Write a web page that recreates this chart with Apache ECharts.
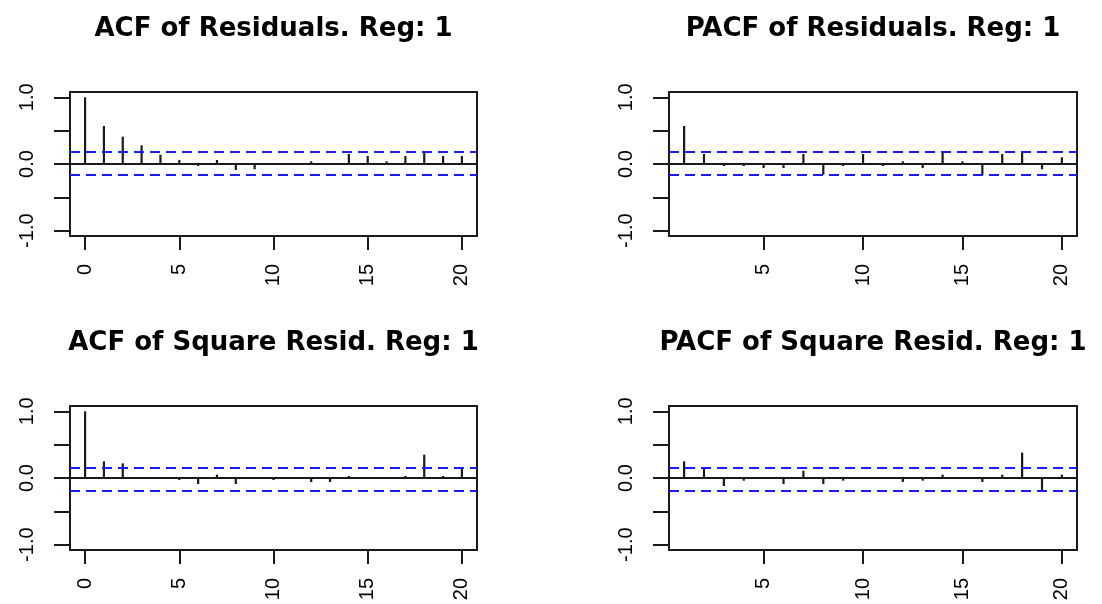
<!DOCTYPE html>
<html>
<head>
<meta charset="utf-8">
<script src="https://cdn.jsdelivr.net/npm/echarts@6/dist/echarts.min.js"></script>
<style>
  html, body { margin: 0; padding: 0; background: #fff; }
  .chart-container { position: relative; width: 1102px; height: 604px; }
</style>
</head>
<body>
<div class="chart-container">
  <div id="chart" style="height: 100%;width: 100%"></div>
</div>
<script>
// lags
const lagsAcf = [0, 1, 2, 3, 4, 5, 6, 7, 8, 9, 10, 11, 12, 13, 14, 15, 16, 17, 18, 19, 20]
const lagsPacf = [1, 2, 3, 4, 5, 6, 7, 8, 9, 10, 11, 12, 13, 14, 15, 16, 17, 18, 19, 20]

// values
const acfResid = [1.0, 0.57, 0.41, 0.28, 0.14, 0.06, -0.03, 0.06, -0.09, -0.08, 0.01, -0.01, 0.04, 0.01, 0.15, 0.12, 0.04, 0.12, 0.19, 0.12, 0.12]
const pacfResid = [0.57, 0.15, -0.03, -0.03, -0.06, -0.06, 0.15, -0.16, -0.03, 0.15, -0.03, 0.04, -0.06, 0.19, 0.04, -0.16, 0.15, 0.19, -0.08, 0.10]
const acfSquare = [1.0, 0.25, 0.22, 0.0, 0.0, -0.03, -0.09, 0.05, -0.09, 0.0, -0.03, 0.0, -0.06, -0.06, 0.03, 0.0, 0.0, 0.03, 0.35, 0.03, 0.16]
const pacfSquare = [0.25, 0.155, -0.12, -0.04, 0.0, -0.09, 0.11, -0.09, -0.04, 0.0, 0.0, -0.06, -0.04, 0.05, 0.0, -0.06, 0.05, 0.38, -0.19, 0.05]

// confidence bands [upper, lower]
const bandResid = [0.19, -0.157]
const bandSquare = [0.157, -0.19]

const yTicks = [-1, -0.5, 0, 0.5, 1]
const yLabels = [-1, 0, 1]
const xTicksAcf = [0, 5, 10, 15, 20]
const xTicksPacf = [5, 10, 15, 20]

const titles = [
  'ACF of Residuals. Reg: 1',
  'PACF of Residuals. Reg: 1',
  'ACF of Square Resid. Reg: 1',
  'PACF of Square Resid. Reg: 1'
]

const panels = [
  { title: titles[0], lags: lagsAcf, values: acfResid, band: bandResid, xTicks: xTicksAcf, grid: { left: 70, top: 92, width: 407, height: 144 } },
  { title: titles[1], lags: lagsPacf, values: pacfResid, band: bandResid, xTicks: xTicksPacf, grid: { left: 669, top: 92, width: 408, height: 144 } },
  { title: titles[2], lags: lagsAcf, values: acfSquare, band: bandSquare, xTicks: xTicksAcf, grid: { left: 70, top: 406, width: 407, height: 144 } },
  { title: titles[3], lags: lagsPacf, values: pacfSquare, band: bandSquare, xTicks: xTicksPacf, grid: { left: 669, top: 406, width: 408, height: 144 } }
]

const ink = '#1a1a1a'
const labelFont = { fontFamily: 'Liberation Sans', fontSize: 20, color: '#000' }

function spike(params, api) {
  const p0 = api.coord([api.value(0), 0])
  const p1 = api.coord([api.value(0), api.value(1)])
  return {
    type: 'line',
    shape: { x1: p0[0], y1: p0[1], x2: p1[0], y2: p1[1] },
    style: { stroke: ink, lineWidth: 2.2 }
  }
}

const chart = echarts.init(document.getElementById('chart'), null, { renderer: 'canvas' })

const grid = []
const xAxis = []
const yAxis = []
const series = []
const title = []

panels.forEach((p, i) => {
  const first = p.lags[0]
  const last = p.lags[p.lags.length - 1]
  const pad = (last - first) * 0.04

  title.push({
    text: p.title,
    left: p.grid.left + p.grid.width / 2,
    top: p.grid.top - 76,
    textAlign: 'center',
    padding: 0,
    textStyle: { fontFamily: 'DejaVu Sans', fontWeight: 'bold', fontSize: 26, color: '#000' }
  })

  grid.push(Object.assign({
    show: true,
    borderColor: ink,
    borderWidth: 2,
    backgroundColor: 'transparent'
  }, p.grid))

  xAxis.push({
    type: 'value',
    gridIndex: i,
    position: 'bottom',
    min: first - pad,
    max: last + pad,
    axisLine: { show: false, onZero: false },
    splitLine: { show: false },
    axisTick: { show: true, inside: false, length: 14, customValues: p.xTicks, lineStyle: { color: ink, width: 2 } },
    axisLabel: Object.assign({ show: true, rotate: 90, margin: 28, customValues: p.xTicks }, labelFont)
  })

  yAxis.push({
    type: 'value',
    gridIndex: i,
    position: 'left',
    min: -1.08,
    max: 1.08,
    axisLine: { show: false, onZero: false },
    splitLine: { show: false },
    axisTick: { show: true, inside: false, length: 16, customValues: yTicks, lineStyle: { color: ink, width: 2 } },
    axisLabel: Object.assign({
      show: true,
      rotate: 90,
      margin: 33,
      customValues: yLabels,
      formatter: v => v.toFixed(1)
    }, labelFont)
  })

  const dashed = { color: '#1a1aff', type: [10, 6], width: 2 }
  series.push({
    type: 'custom',
    xAxisIndex: i,
    yAxisIndex: i,
    renderItem: spike,
    encode: { x: 0, y: 1 },
    data: p.lags.map((lag, k) => [lag, p.values[k]]),
    markLine: {
      silent: true,
      symbol: ['none', 'none'],
      label: { show: false },
      animation: false,
      data: [
        { yAxis: 0, lineStyle: { color: ink, type: 'solid', width: 2 } },
        { yAxis: p.band[0], lineStyle: dashed },
        { yAxis: p.band[1], lineStyle: dashed }
      ]
    }
  })
})

chart.setOption({
  animation: false,
  backgroundColor: '#fff',
  title: title,
  grid: grid,
  xAxis: xAxis,
  yAxis: yAxis,
  series: series
})
</script>
</body>
</html>
